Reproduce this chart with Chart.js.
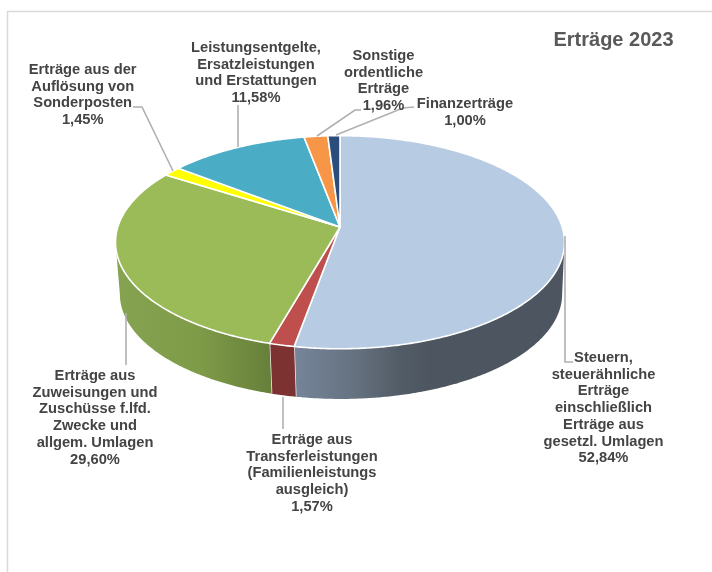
<!DOCTYPE html>
<html><head><meta charset="utf-8">
<style>html,body{margin:0;background:#fff}canvas{display:block}</style>
<script src="https://cdn.jsdelivr.net/npm/chart.js@4"></script>
</head><body><canvas id="c" width="712" height="572"></canvas>
<script>
const title = 'Erträge 2023';
const categories = [
  ['Steuern,','steuerähnliche','Erträge','einschließlich','Erträge aus','gesetzl. Umlagen'],
  ['Erträge aus','Transferleistungen','(Familienleistungs','ausgleich)'],
  ['Erträge aus','Zuweisungen und','Zuschüsse f.lfd.','Zwecke und','allgem. Umlagen'],
  ['Erträge aus der','Auflösung von','Sonderposten'],
  ['Leistungsentgelte,','Ersatzleistungen','und Erstattungen'],
  ['Sonstige','ordentliche','Erträge'],
  ['Finanzerträge']
];
const values = [52.84, 1.57, 29.60, 1.45, 11.58, 1.96, 1.00];
const colors = ['#b7cce2','#be4f4c','#9bbb59','#ffff00','#4bacc6','#f79646','#2a4d7c'];
const wallStops = [
  [[294,'#76859a'],[356,'#65717f'],[400,'#525c66'],[430,'#4d5660'],[566,'#4d5660']],
  [[268,'#7c3231'],[296,'#7c3231']],
  [[116,'#86a351'],[200,'#7e9b48'],[270,'#67803a']],
  null,null,null,null
];
const labelCenters = [[603.5,358],[312,440],[95,376],[82.7,70],[256,48],[383.5,56],[465,104]];
const leaders = [
  [[565,236],[565,362],[573,362]],
  [[283,397],[283,429]],
  [[126,313],[126,365]],
  [[173,171],[142,107],[133,107]],
  [[238,147],[238,105]],
  [[317,136],[355,110],[361,110]],
  [[336,135],[403,108],[414,107]]
];
const TILT = 0.4697, PERSP = 0.1429, WALL_DY = 52, WALL_DX = 1, WALL_SCALE = 0.985, LINE_H = 16.7;

function rim(arc, a, wall) {
  const u = Math.cos(a), v = Math.sin(a), w = 1 - PERSP * v;
  let x = arc.outerRadius * u / w, y = arc.outerRadius * TILT * v / w;
  if (wall) { x = x * WALL_SCALE + WALL_DX; y = y * WALL_SCALE + WALL_DY; }
  return [arc.x + x, arc.y + y];
}
function trace(ctx, arc, a0, a1, wall, move) {
  const n = Math.max(2, Math.ceil(Math.abs(a1 - a0) / 0.008));
  for (let i = 0; i <= n; i++) {
    const p = rim(arc, a0 + (a1 - a0) * i / n, wall);
    if (i === 0 && move) ctx.moveTo(p[0], p[1]); else ctx.lineTo(p[0], p[1]);
  }
}
const pie3d = {
  id: 'pie3d',
  beforeDraw(chart) {
    const ctx = chart.ctx;
    ctx.save();
    ctx.strokeStyle = '#d9d9d9'; ctx.lineWidth = 1.5;
    ctx.beginPath(); ctx.moveTo(712, 11.5); ctx.lineTo(7.5, 11.5); ctx.lineTo(7.5, 572); ctx.stroke();
    ctx.restore();
  },
  beforeDatasetsDraw(chart) {
    const ctx = chart.ctx, arcs = chart.getDatasetMeta(0).data;
    const wide = Math.asin(PERSP);
    ctx.save();
    arcs.forEach((arc, i) => {
      const s = Math.max(arc.startAngle, wide), e = Math.min(arc.endAngle, Math.PI - wide);
      if (e <= s || !wallStops[i]) return;
      const st = wallStops[i], x0 = st[0][0], x1 = st[st.length-1][0];
      const g = ctx.createLinearGradient(x0, 0, x1, 0);
      st.forEach(q => g.addColorStop((q[0]-x0)/(x1-x0), q[1]));
      ctx.fillStyle = g;
      ctx.beginPath(); trace(ctx, arc, s, e, false, true); trace(ctx, arc, e, s, true, false); ctx.closePath(); ctx.fill();
      if (arc.endAngle < Math.PI - wide) {
        const a = rim(arc,e,false), b = rim(arc,e,true);
        ctx.strokeStyle = '#eeeeee'; ctx.lineWidth = 1.5;
        ctx.beginPath(); ctx.moveTo(a[0],a[1]); ctx.lineTo(b[0],b[1]); ctx.stroke();
      }
    });
    arcs.forEach(arc => {
      ctx.fillStyle = arc.options.backgroundColor;
      ctx.strokeStyle = arc.options.borderColor; ctx.lineWidth = arc.options.borderWidth; ctx.lineJoin = 'round';
      ctx.beginPath(); ctx.moveTo(arc.x, arc.y); trace(ctx, arc, arc.startAngle, arc.endAngle, false, false); ctx.closePath();
      ctx.fill(); ctx.stroke();
    });
    ctx.restore();
    return false;
  },
  afterDraw(chart) {
    const ctx = chart.ctx;
    ctx.save();
    ctx.strokeStyle = '#b0b0b0'; ctx.lineWidth = 1.6;
    leaders.forEach(l => { ctx.beginPath(); l.forEach((p,i) => i ? ctx.lineTo(p[0],p[1]) : ctx.moveTo(p[0],p[1])); ctx.stroke(); });
    ctx.textAlign = 'center'; ctx.textBaseline = 'middle';
    ctx.fillStyle = '#444444'; ctx.font = 'bold 14.7px "Liberation Sans"';
    categories.forEach((lines, i) => {
      const pct = values[i].toFixed(2).replace('.', ',') + '%';
      [...lines, pct].forEach((t, j) => ctx.fillText(t, labelCenters[i][0], labelCenters[i][1] + j * LINE_H));
    });
    ctx.fillStyle = '#595959'; ctx.font = 'bold 20px "Liberation Sans"';
    ctx.fillText(title, 613.5, 40);
    ctx.restore();
  }
};
new Chart(document.getElementById('c'), {
  type: 'pie',
  data: { labels: categories.map(c => c.join(' ')), datasets: [{ data: values, backgroundColor: colors, borderColor: '#ffffff', borderWidth: 1.6 }] },
  options: {
    responsive: false, animation: false,
    layout: { padding: { left: 117, right: 149, top: 4, bottom: 122 } },
    plugins: { legend: { display: false }, tooltip: { enabled: false } }
  },
  plugins: [pie3d]
});
</script></body></html>
